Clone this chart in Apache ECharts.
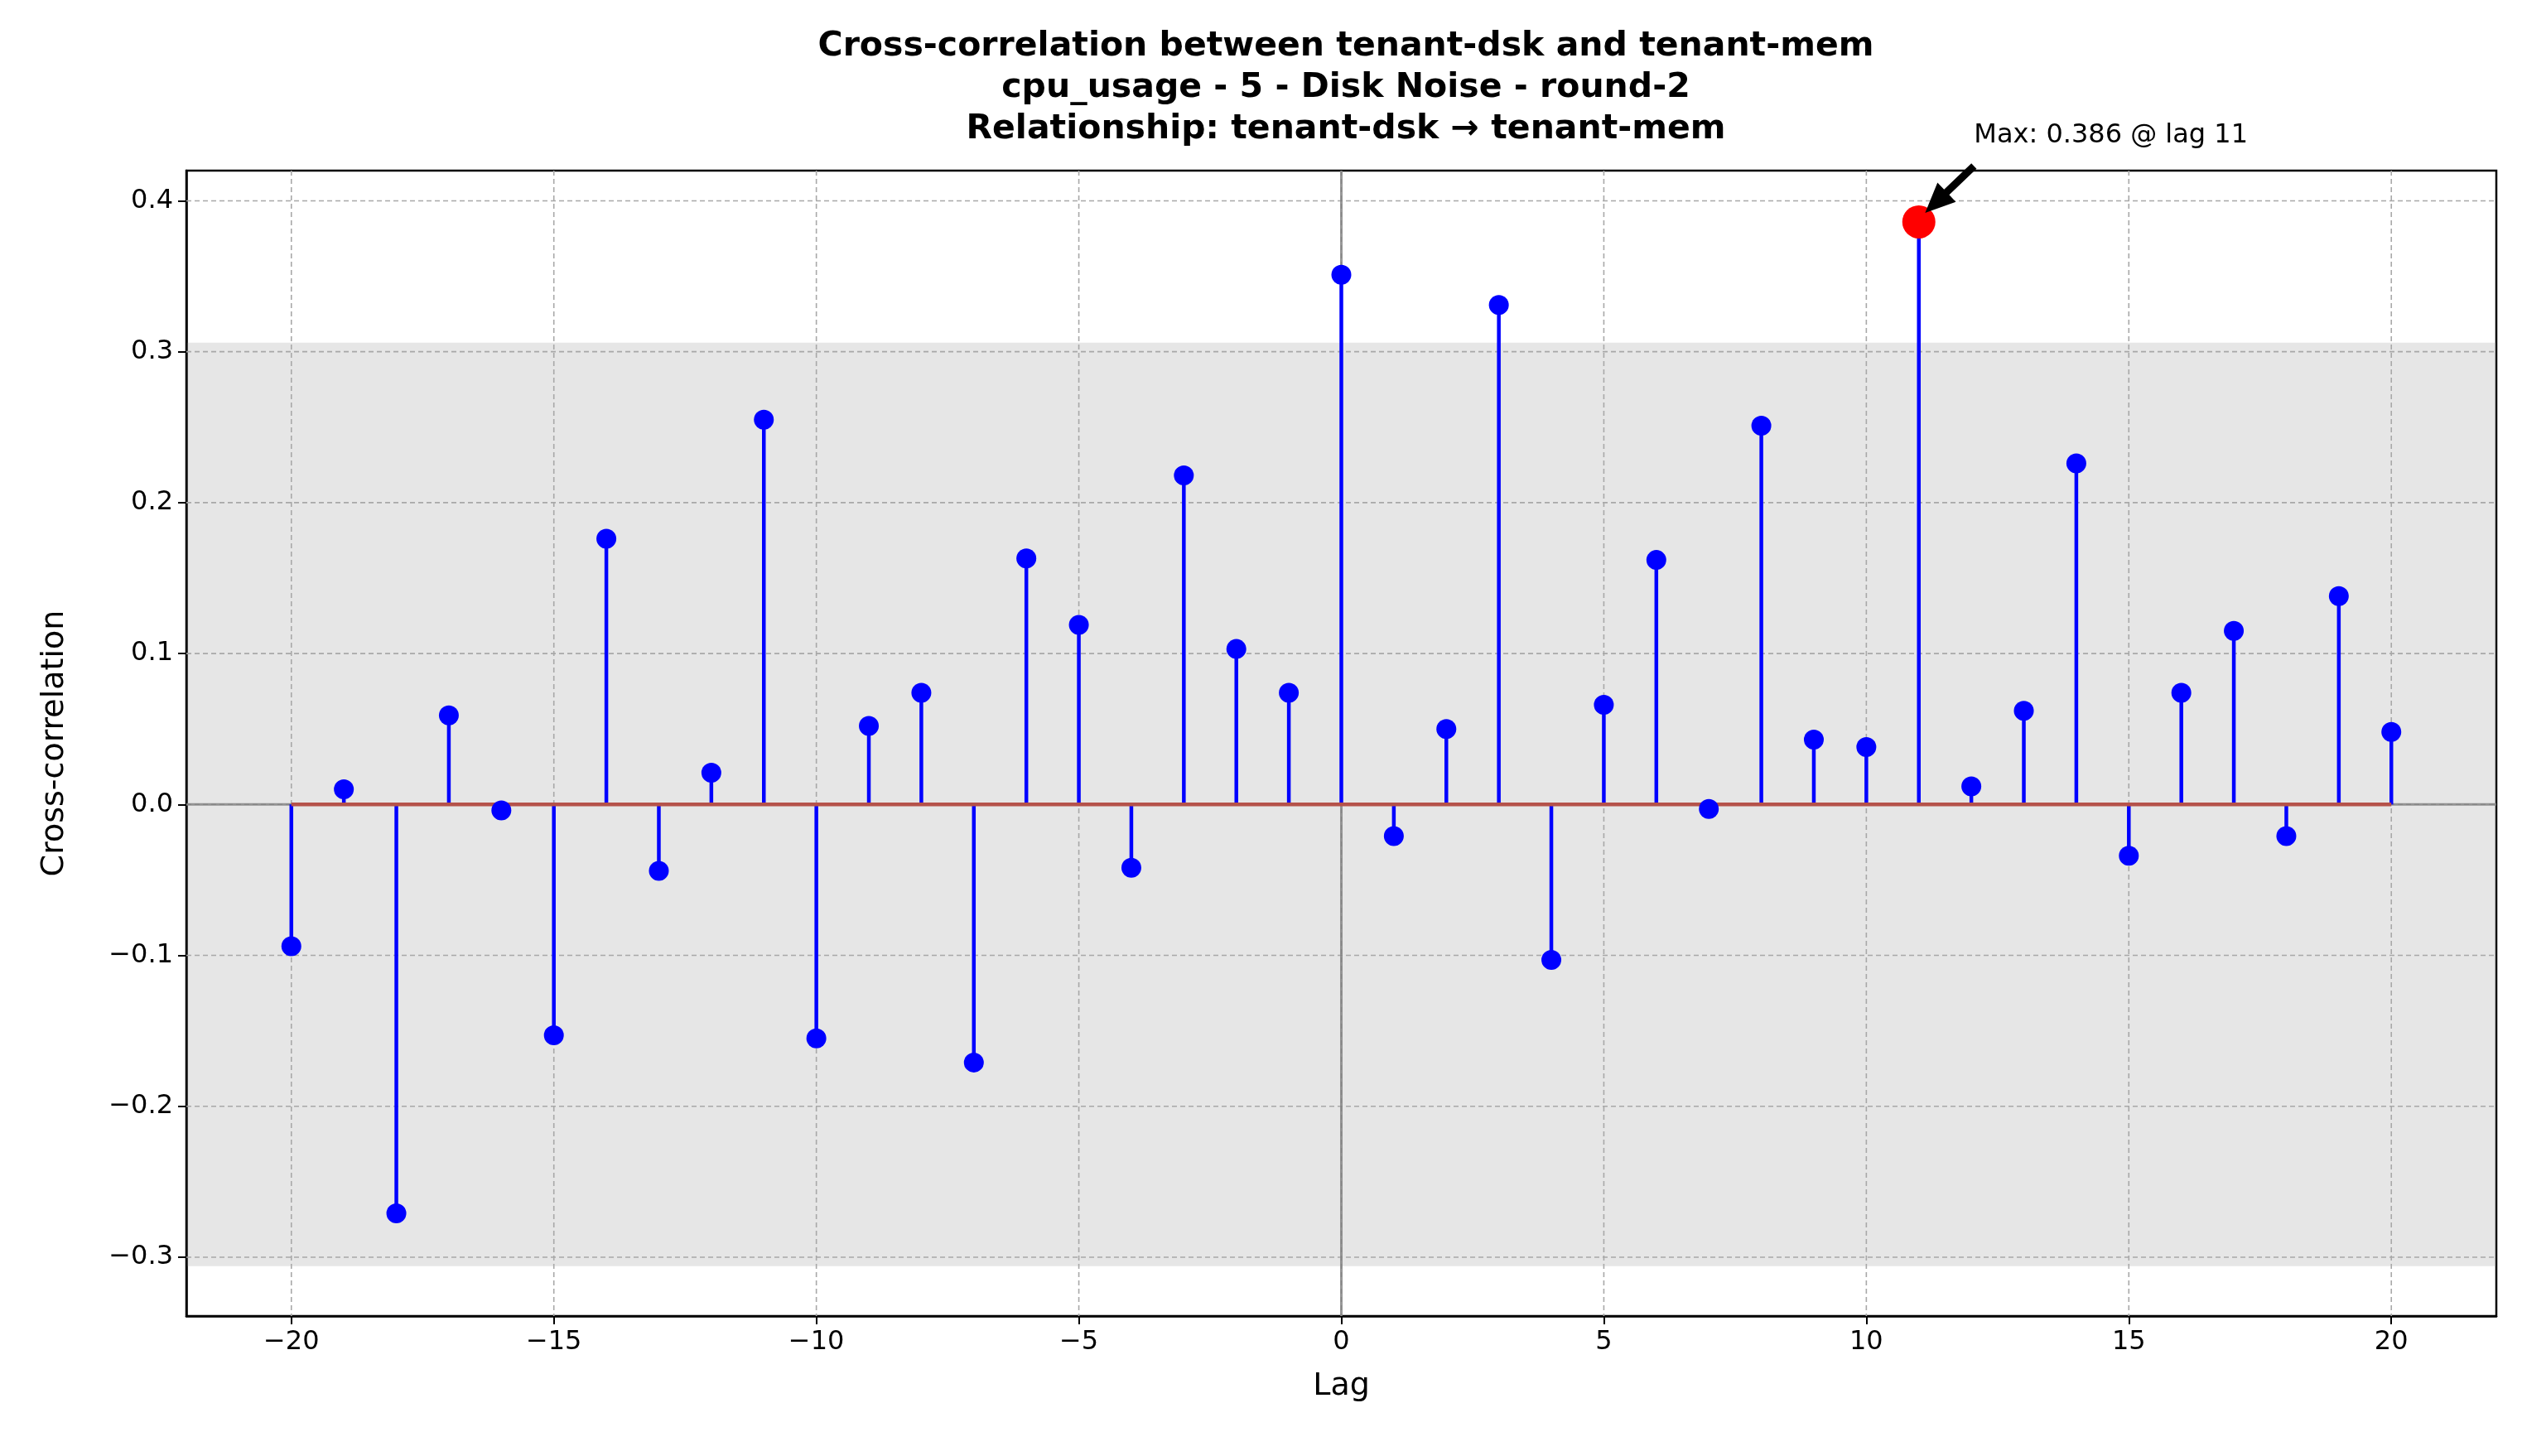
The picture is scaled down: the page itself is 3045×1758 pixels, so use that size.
<!DOCTYPE html>
<html><head><meta charset="utf-8">
<script src="https://cdn.jsdelivr.net/npm/echarts@6/dist/echarts.min.js"></script>
<style>html,body{margin:0;padding:0;background:#fff}#c{width:3045px;height:1758px}</style>
</head><body><div id="c"></div>
<script>
const lags = [-20,-19,-18,-17,-16,-15,-14,-13,-12,-11,-10,-9,-8,-7,-6,-5,-4,-3,-2,-1,0,1,2,3,4,5,6,7,8,9,10,11,12,13,14,15,16,17,18,19,20];
const ccf = [-0.094,0.010,-0.271,0.059,-0.004,-0.153,0.176,-0.044,0.021,0.255,-0.155,0.052,0.074,-0.171,0.163,0.119,-0.042,0.218,0.103,0.074,0.351,-0.021,0.050,0.331,-0.103,0.066,0.162,-0.003,0.251,0.043,0.038,0.386,0.012,0.062,0.226,-0.034,0.074,0.115,-0.021,0.138,0.048];
const xTicks = [-20,-15,-10,-5,0,5,10,15,20];
const yTicks = [-0.3,-0.2,-0.1,0.0,0.1,0.2,0.3,0.4];
const confBand = 0.306;
const maxLag = 11, maxVal = 0.386;
const titleText = 'Cross-correlation between tenant-dsk and tenant-mem\ncpu_usage - 5 - Disk Noise - round-2\nRelationship: tenant-dsk → tenant-mem';
const annText = 'Max: 0.386 @ lag 11';
const F = 'DejaVu Sans';
const fmt = v => (Math.round(v*10)/10).toFixed(1).replace('-', '−');
const chart = echarts.init(document.getElementById('c'));
const pts = lags.map((l,i)=>[l,ccf[i]]);
chart.setOption({
  animation:false,
  title:{text:titleText,left:1620,top:26,textAlign:'center',textStyle:{fontFamily:F,fontWeight:'bold',fontSize:41,lineHeight:50,color:'#000'}},
  grid:{left:225,right:31,top:206,bottom:169,show:true,borderColor:'#000',borderWidth:2.5,backgroundColor:'transparent'},
  xAxis:{type:'value',min:-22,max:22,name:'Lag',nameLocation:'middle',nameGap:66,
    nameTextStyle:{fontFamily:F,fontSize:38,color:'#000'},
    axisLine:{show:true,onZero:false,lineStyle:{color:'#000',width:2.5}},
    axisTick:{show:true,customValues:xTicks,length:10,lineStyle:{color:'#000',width:2}},
    axisLabel:{customValues:xTicks,fontFamily:F,fontSize:32,color:'#000',margin:16,formatter:v=>String(v).replace('-','−')},
    splitLine:{show:false}},
  yAxis:{type:'value',min:-0.339,max:0.42,name:'Cross-correlation',nameLocation:'middle',nameGap:140,
    nameTextStyle:{fontFamily:F,fontSize:38,color:'#000'},
    axisLine:{show:true,onZero:false,lineStyle:{color:'#000',width:2.5}},
    axisTick:{show:true,customValues:yTicks,length:10,lineStyle:{color:'#000',width:2}},
    axisLabel:{customValues:yTicks,fontFamily:F,fontSize:32,color:'#000',margin:16,formatter:fmt},
    splitLine:{show:false}},
  series:[
    {type:'custom',silent:true,z:1,data:[[0,0]],renderItem:(p,api)=>{
      const ch=[];
      const tl=api.coord([-22,confBand]), br=api.coord([22,-confBand]);
      ch.push({type:'rect',shape:{x:tl[0],y:tl[1],width:br[0]-tl[0],height:br[1]-tl[1]},style:{fill:'rgba(128,128,128,0.2)'}});
      const ls={stroke:'#a8a8a8',lineWidth:1.6,lineDash:[6,4]};
      xTicks.forEach(x=>{const a=api.coord([x,0.42]),b=api.coord([x,-0.339]);ch.push({type:'line',shape:{x1:a[0],y1:a[1],x2:b[0],y2:b[1]},style:ls});});
      yTicks.forEach(y=>{const a=api.coord([-22,y]),b=api.coord([22,y]);ch.push({type:'line',shape:{x1:a[0],y1:a[1],x2:b[0],y2:b[1]},style:ls});});
      const a=api.coord([-22,0]),b=api.coord([22,0]);
      ch.push({type:'line',shape:{x1:a[0],y1:a[1],x2:b[0],y2:b[1]},style:{stroke:'#808080',lineWidth:3,opacity:0.8}});
      const c=api.coord([0,0.42]),d=api.coord([0,-0.339]);
      ch.push({type:'line',shape:{x1:c[0],y1:c[1],x2:d[0],y2:d[1]},style:{stroke:'#808080',lineWidth:3,opacity:0.8}});
      return {type:'group',children:ch};
    }},
    {type:'custom',silent:true,z:3,data:pts,renderItem:(p,api)=>{
      const a=api.coord([api.value(0),0]),b=api.coord([api.value(0),api.value(1)]);
      return {type:'line',shape:{x1:a[0],y1:a[1],x2:b[0],y2:b[1]},style:{stroke:'#0000ff',lineWidth:4.5}};
    }},
    {type:'line',z:4,data:[[-20,0],[20,0]],symbol:'none',lineStyle:{color:'#b5524a',width:4.5}},
    {type:'scatter',z:5,data:pts,symbolSize:24,itemStyle:{color:'#0000ff',opacity:1}},
    {type:'scatter',z:6,data:[[maxLag,maxVal]],symbolSize:40,itemStyle:{color:'#ff0000',opacity:1}},
    {type:'custom',silent:true,z:7,clip:false,data:[[maxLag,maxVal]],renderItem:(p,api)=>{
      const t=api.coord([12.05,0.423]), h=api.coord([maxLag+0.12,maxVal+0.006]);
      const dx=h[0]-t[0], dy=h[1]-t[1], L=Math.hypot(dx,dy), ux=dx/L, uy=dy/L, nx=-uy, ny=ux;
      const hl=36, hw=16, sw=4.5;
      const bx=h[0]-ux*hl, by=h[1]-uy*hl;
      const tx=api.coord([12.05,0.443]);
      return {type:'group',children:[
        {type:'polygon',shape:{points:[[t[0]+nx*sw,t[1]+ny*sw],[bx+nx*sw,by+ny*sw],[bx+nx*hw,by+ny*hw],[h[0],h[1]],[bx-nx*hw,by-ny*hw],[bx-nx*sw,by-ny*sw],[t[0]-nx*sw,t[1]-ny*sw]]},style:{fill:'#000'}},
        {type:'text',x:tx[0],y:tx[1],style:{text:annText,fontFamily:F,fontSize:32,fill:'#000',verticalAlign:'middle',align:'left'}}
      ]};
    }}
  ]
});
</script></body></html>
